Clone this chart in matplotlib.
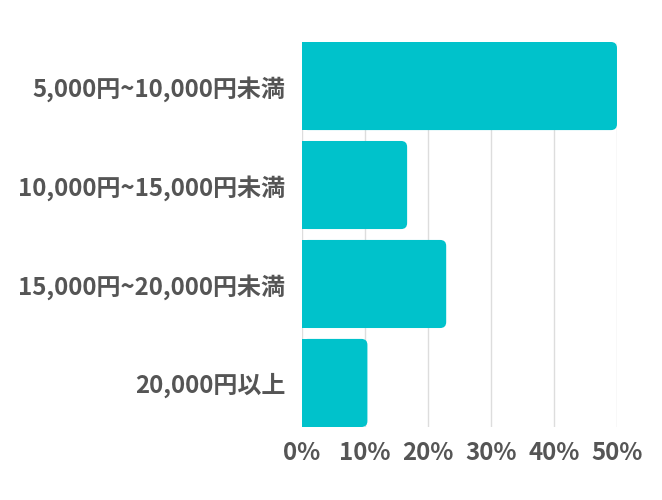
import matplotlib.pyplot as plt
from matplotlib.patches import FancyBboxPatch, Rectangle

plt.rcParams['font.family'] = ['Noto Sans CJK JP', 'DejaVu Sans']

# データ
categories = ['5,000円~10,000円未満', '10,000円~15,000円未満', '15,000円~20,000円未満', '20,000円以上']
values = [50.0, 16.7, 22.9, 10.4]
ticks = [0, 10, 20, 30, 40, 50]
tick_labels = ['0%', '10%', '20%', '30%', '40%', '50%']

color = '#00C2CB'
text_color = '#555555'

fig = plt.figure(figsize=(6.62, 5), dpi=100)
ax = fig.add_axes([0.456, 0.146, 0.476, 0.770])

bars = ax.barh(range(len(categories)), values, height=0.89, color=color)

ax.set_xlim(0, 50)
ax.set_ylim(3.445, -0.445)

# 右端だけ角丸にする
fig.canvas.draw()
px_x = ax.transData.transform((1, 0))[0] - ax.transData.transform((0, 0))[0]
px_y = abs(ax.transData.transform((0, 1))[1] - ax.transData.transform((0, 0))[1])
r = 6 / px_x
for b in bars:
    x, y, w, h = b.get_x(), b.get_y(), b.get_width(), b.get_height()
    b.set_visible(False)
    ax.add_patch(FancyBboxPatch((x, y), w, h,
                                boxstyle=f'round,pad=0,rounding_size={r}',
                                mutation_aspect=px_x / px_y,
                                facecolor=color, edgecolor='none', zorder=3))
    ax.add_patch(Rectangle((x, y), w / 2, h, facecolor=color,
                           edgecolor='none', zorder=3))

ax.set_xticks(ticks)
ax.set_xticklabels(tick_labels)
ax.set_yticks(range(len(categories)))
ax.set_yticklabels(categories)
ax.grid(axis='x', color='#dddddd', linewidth=1, zorder=0)
ax.set_axisbelow(True)
for s in ax.spines.values():
    s.set_visible(False)
ax.tick_params(length=0, labelsize=17.3, labelcolor=text_color)
ax.tick_params(axis='y', pad=12)
ax.tick_params(axis='x', pad=10)
for lbl in ax.get_xticklabels() + ax.get_yticklabels():
    lbl.set_fontweight('bold')

fig.savefig('out.png', dpi=100)
